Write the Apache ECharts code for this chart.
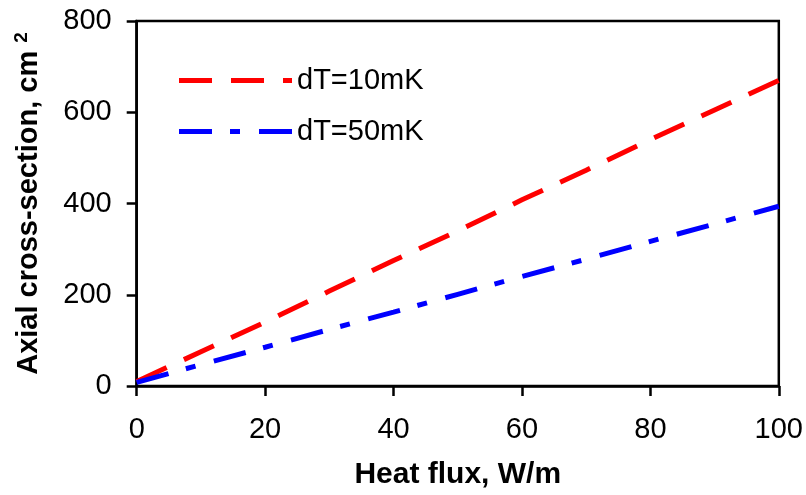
<!DOCTYPE html>
<html>
<head>
<meta charset="utf-8">
<script src="https://cdn.jsdelivr.net/npm/echarts@6/dist/echarts.min.js"></script>
<style>
html,body{margin:0;padding:0;background:#fff;}
#chart{width:806px;height:495px;}
</style>
</head>
<body>
<div id="chart"></div>
<script>
var heatFlux = [0, 10, 20, 30, 40, 50, 60, 70, 80, 90, 100];
var dT10 = [10, 75, 140, 208, 275, 340, 408, 473, 540, 605, 670];
var dT50 = [8, 47, 85, 124, 162, 201, 240, 278, 317, 355, 394];
var seriesNames = ['dT=10mK', 'dT=50mK'];
var xTitle = 'Heat flux, W/m';
var yTitle = 'Axial cross-section, cm';
var yTitleSup = '2';

function pairs(ys) { return heatFlux.map(function (x, i) { return [x, ys[i]]; }); }

// legend icons drawn as dashed strokes (113 x 5 box)
var iconDash = 'path://M0,0L33,0L33,5L0,5ZM52,0L85,0L85,5L52,5ZM104,0L113,0L113,5L104,5Z';
var iconDashDot = 'path://M0,0L33,0L33,5L0,5ZM51,0L61,0L61,5L51,5ZM80,0L113,0L113,5L80,5Z';

var FONT = '"Liberation Sans", Arial, sans-serif';
var chart = echarts.init(document.getElementById('chart'), null, {renderer: 'canvas'});
chart.setOption({
  animation: false,
  backgroundColor: '#ffffff',
  grid: {left: 136.7, right: 27, top: 21, bottom: 107.3, show: true, borderColor: '#000', borderWidth: 2.5, backgroundColor: 'transparent'},
  legend: {
    orient: 'vertical', left: 174, top: 61,
    itemWidth: 113, itemHeight: 5, itemGap: 22,
    textStyle: {fontFamily: FONT, fontSize: 29, color: '#000', lineHeight: 28},
    data: [
      {name: seriesNames[0], icon: iconDash, itemStyle: {color: '#ff0000'}},
      {name: seriesNames[1], icon: iconDashDot, itemStyle: {color: '#0000ff'}}
    ]
  },
  xAxis: {
    type: 'value', min: 0, max: 100, interval: 20,
    name: xTitle, nameLocation: 'middle', nameGap: 74,
    nameTextStyle: {fontFamily: FONT, fontSize: 30, fontWeight: 'bold', color: '#000'},
    axisLine: {lineStyle: {color: '#000', width: 2.5}},
    axisTick: {show: true, inside: false, length: 10, lineStyle: {color: '#000', width: 2.5}},
    axisLabel: {fontFamily: FONT, fontSize: 29, color: '#000', margin: 29},
    splitLine: {show: false}
  },
  yAxis: {
    type: 'value', min: 0, max: 800, interval: 200,
    name: '{a|' + yTitle + ' }{s|' + yTitleSup + '}', nameLocation: 'middle', nameGap: 92, nameRotate: 90,
    nameTextStyle: {
      fontFamily: FONT, fontSize: 29, fontWeight: 'bold', color: '#000',
      rich: {
        a: {fontFamily: FONT, fontSize: 29, fontWeight: 'bold', color: '#000', lineHeight: 32},
        s: {fontFamily: FONT, fontSize: 19, fontWeight: 'bold', color: '#000', verticalAlign: 'top', lineHeight: 32}
      }
    },
    axisLine: {show: true, lineStyle: {color: '#000', width: 2.5}},
    axisTick: {show: true, inside: false, length: 10, lineStyle: {color: '#000', width: 2.5}},
    axisLabel: {fontFamily: FONT, fontSize: 29, color: '#000', margin: 25},
    splitLine: {show: false}
  },
  series: [
    {
      name: seriesNames[0], type: 'line', data: pairs(dT10), symbol: 'none', smooth: false,
      lineStyle: {color: '#ff0000', width: 5, type: [33, 19], cap: 'butt'},
      itemStyle: {color: '#ff0000'}
    },
    {
      name: seriesNames[1], type: 'line', data: pairs(dT50), symbol: 'none', smooth: false,
      lineStyle: {color: '#0000ff', width: 5, type: [33, 18, 10, 19], cap: 'butt'},
      itemStyle: {color: '#0000ff'}
    }
  ]
});
</script>
</body>
</html>
